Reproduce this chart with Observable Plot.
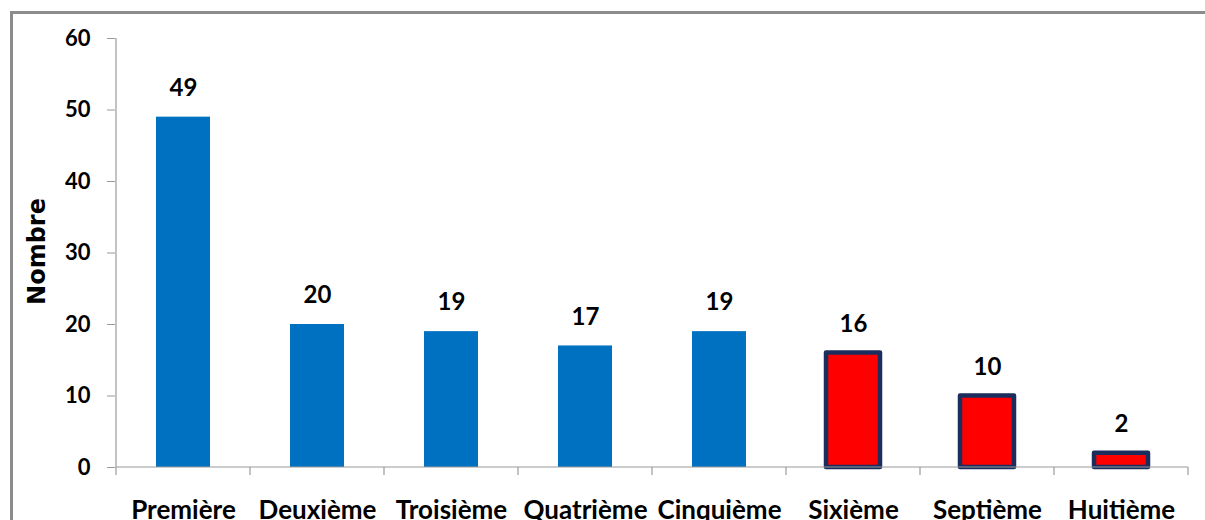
<!DOCTYPE html>
<html>
<head>
<meta charset="utf-8">
<script src="https://cdn.jsdelivr.net/npm/d3@7"></script>
<script src="https://cdn.jsdelivr.net/npm/@observablehq/plot@0.6"></script>
<style>
  html, body { margin: 0; padding: 0; background: #fff; overflow: hidden; }
  #wrap { position: relative; width: 1205px; height: 520px; overflow: hidden; }
  #frame { position: absolute; left: 10px; top: 11px; width: 1400px; height: 700px; border: 3px solid #8c8c8c; box-sizing: border-box; pointer-events: none; }
  #chart { position: absolute; left: 0; top: 0; }
</style>
</head>
<body>
<div id="wrap"><div id="chart"></div><div id="frame"></div></div>
<script>
const categories = ["Première", "Deuxième", "Troisième", "Quatrième", "Cinquième", "Sixième", "Septième", "Huitième"];
const values = [49, 20, 19, 17, 19, 16, 10, 2];
const highlighted = [false, false, false, false, false, true, true, true];
const yTicks = [0, 10, 20, 30, 40, 50, 60];
const yLabel = "Nombre";

const data = categories.map((c, i) => ({cat: c, value: values[i], hi: highlighted[i]}));
const FONT = "Lato, 'Open Sans', sans-serif";
const AXIS = "#9a9a9a";

function axesLines() {
  return (index, scales, values, dimensions, context) => {
    const x = scales.x, y = scales.y;
    const step = x(categories[1]) - x(categories[0]);
    const pos = categories.map(c => x(c)).concat([x(categories[categories.length - 1]) + step]);
    const y0 = y(0);
    const g = d3.create("svg:g").attr("stroke", AXIS).attr("stroke-width", 1.2);
    g.selectAll("line.t").data(pos).join("line")
      .attr("x1", d => d).attr("x2", d => d).attr("y1", y0).attr("y2", y0 + 8);
    g.append("line").attr("x1", pos[0]).attr("x2", pos[0]).attr("y1", y(yTicks[yTicks.length - 1])).attr("y2", y0);
    g.append("line").attr("x1", pos[0]).attr("x2", pos[pos.length - 1]).attr("y1", y0).attr("y2", y0);
    return g.node();
  };
}

const plot = Plot.plot({
  width: 1205,
  height: 520,
  marginLeft: 115,
  marginRight: 17,
  marginTop: 38,
  marginBottom: 53,
  style: {fontFamily: FONT, background: "transparent", overflow: "visible"},
  x: {domain: categories, padding: 0},
  y: {domain: [0, 60]},
  marks: [
    Plot.barY(data.filter(d => !d.hi), {x: "cat", y: "value", fill: "#0070C0", insetLeft: 40, insetRight: 40}),
    Plot.barY(data.filter(d => d.hi), {x: "cat", y: "value", fill: "#FF0000", stroke: "#1B2D5C", strokeWidth: 4.5, strokeLinejoin: "round", insetLeft: 40, insetRight: 40}),
    axesLines(),
    Plot.axisY({ticks: yTicks, tickSize: 8, tickPadding: 17, stroke: AXIS, tickFormat: d => d, label: null, fontSize: 22, fontWeight: "bold", fill: "#000"}),
    Plot.axisX({tickSize: 0, tickPadding: 33, label: null, fontSize: 26, fontWeight: "bold", fill: "#000"}),
    Plot.text(data, {x: "cat", y: "value", text: d => String(d.value), dy: -29, fontSize: 24, fontWeight: "bold", fill: "#000"}),
    Plot.text([yLabel], {frameAnchor: "left", textAnchor: "middle", text: d => d, rotate: -90, dx: -78, dy: -1.5, fontSize: 24, fontWeight: "bold", fontFamily: "'DejaVu Sans', sans-serif", fill: "#000"})
  ]
});
document.getElementById("chart").appendChild(plot);
</script>
</body>
</html>
